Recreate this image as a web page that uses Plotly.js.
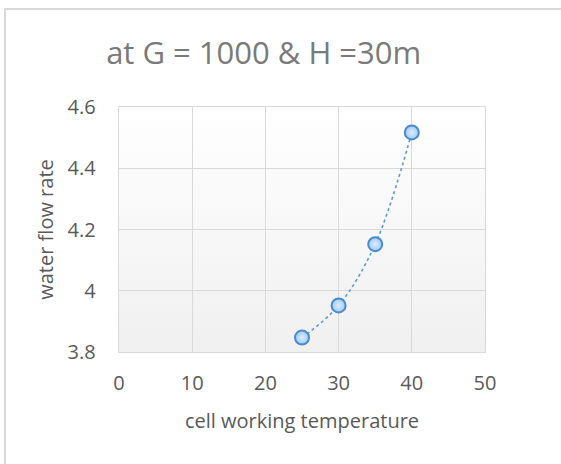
<!DOCTYPE html>
<html>
<head>
<meta charset="utf-8">
<script src="https://cdn.plot.ly/plotly-3.0.1.min.js"></script>
<style>
  html, body { margin: 0; padding: 0; background: #ffffff; }
  #frame { position: absolute; left: 4px; top: 8px; width: 600px; height: 500px; border: 2px solid #d9d9d9; box-sizing: border-box; }
  #chart { position: absolute; left: 0; top: 0; width: 561px; height: 464px; }
</style>
</head>
<body>
<div id="frame"></div>
<div id="chart"></div>
<script>
// Data
const temperature = [25, 30, 35, 40];
const flowRate = [3.847, 3.952, 4.152, 4.517];
const xTicks = [0, 10, 20, 30, 40, 50];
const yTicks = [3.8, 4.0, 4.2, 4.4, 4.6];
const yTickLabels = ['3.8', '4', '4.2', '4.4', '4.6'];

const gradSvg = "data:image/svg+xml;utf8," + encodeURIComponent(
  '<svg xmlns="http://www.w3.org/2000/svg" width="100" height="100" preserveAspectRatio="none">' +
  '<defs><linearGradient id="g" x1="0" y1="0" x2="0" y2="1">' +
  '<stop offset="0" stop-color="#ffffff"/><stop offset="1" stop-color="#f0f0f0"/>' +
  '</linearGradient></defs><rect width="100" height="100" fill="url(#g)"/></svg>');

const trace = {
  x: temperature,
  y: flowRate,
  type: 'scatter',
  mode: 'lines+markers',
  line: { color: '#5b9bd5', width: 1.6, dash: 'dot', shape: 'spline' },
  marker: {
    size: 14,
    color: '#9ecbf5',
    gradient: { type: 'radial', color: '#dcecfc' },
    line: { color: '#4a8ad0', width: 2 }
  },
  hoverinfo: 'x+y',
  showlegend: false
};

const font = "'Open Sans', 'Liberation Sans', sans-serif";

const layout = {
  width: 561,
  height: 464,
  margin: { l: 119, r: 76, t: 107, b: 112 },
  paper_bgcolor: 'rgba(0,0,0,0)',
  plot_bgcolor: 'rgba(0,0,0,0)',
  font: { family: font, color: '#595959' },
  title: {
    text: 'at G = 1000 & H =30m',
    font: { family: font, size: 31, color: '#7a7a7a' },
    x: 0.47, xanchor: 'center',
    y: 0.885, yanchor: 'middle'
  },
  xaxis: {
    range: [0, 50],
    tickvals: xTicks,
    ticktext: xTicks.map(String),
    showgrid: true,
    gridcolor: '#d9d9d9',
    gridwidth: 1.3,
    zeroline: false,
    showline: true,
    linecolor: '#d9d9d9',
    linewidth: 1.3,
    mirror: true,
    ticks: '',
    tickfont: { size: 20, color: '#595959' },
    ticklabelstandoff: 13,
    title: { text: 'cell working temperature', font: { size: 20, color: '#595959' }, standoff: 18 }
  },
  yaxis: {
    range: [3.8, 4.6],
    tickvals: yTicks,
    ticktext: yTickLabels,
    showgrid: true,
    gridcolor: '#d9d9d9',
    gridwidth: 1.3,
    zeroline: false,
    showline: true,
    linecolor: '#d9d9d9',
    linewidth: 1.3,
    mirror: true,
    ticks: '',
    tickfont: { size: 20, color: '#595959' },
    ticklabelstandoff: 18,
    title: { text: 'water flow rate', font: { size: 20, color: '#595959' }, standoff: 8 }
  },
  images: [{
    source: gradSvg,
    xref: 'paper', yref: 'paper',
    x: 0, y: 1, sizex: 1, sizey: 1,
    xanchor: 'left', yanchor: 'top',
    sizing: 'stretch',
    layer: 'below'
  }]
};

Plotly.newPlot('chart', [trace], layout, { displayModeBar: false, staticPlot: true });
</script>
</body>
</html>
